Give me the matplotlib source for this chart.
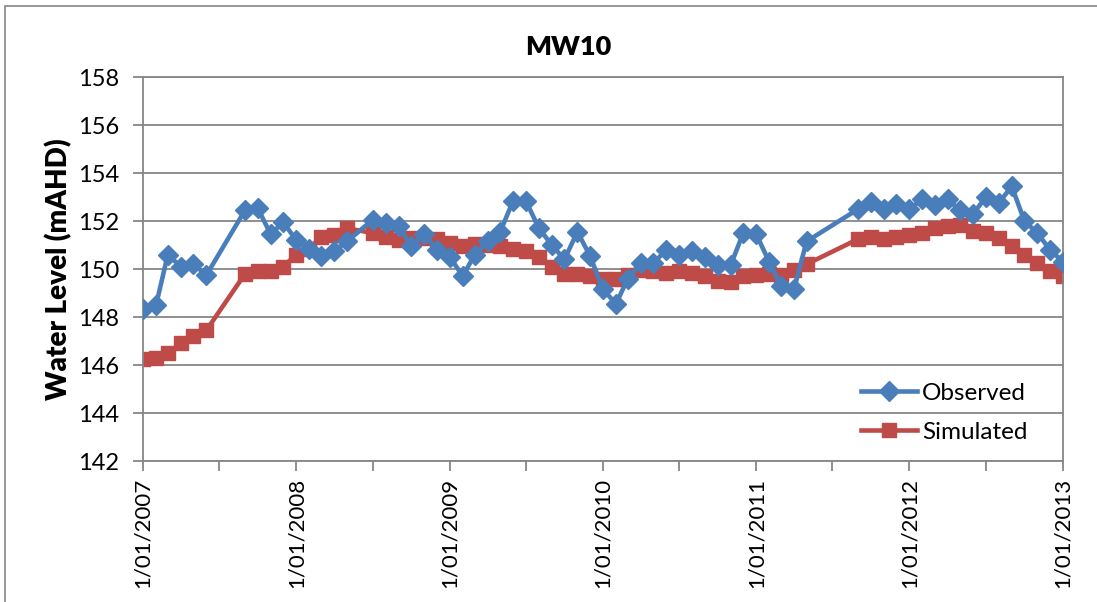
import matplotlib
matplotlib.use("Agg")
import matplotlib.pyplot as plt
import matplotlib.dates as mdates
from matplotlib.patches import Rectangle
import numpy as np
import pandas as pd

plt.rcParams['font.family'] = ['Lato', 'DejaVu Sans']

# monthly readings, with gaps where no sample was taken
dates = pd.to_datetime([
    "2007-01-01", "2007-02-01", "2007-03-01", "2007-04-01", "2007-05-01", "2007-06-01",
    "2007-09-01", "2007-10-01", "2007-11-01", "2007-12-01",
    "2008-01-01", "2008-02-01", "2008-03-01", "2008-04-01", "2008-05-01",
    "2008-07-01", "2008-08-01", "2008-09-01", "2008-10-01", "2008-11-01", "2008-12-01",
    "2009-01-01", "2009-02-01", "2009-03-01", "2009-04-01", "2009-05-01", "2009-06-01",
    "2009-07-01", "2009-08-01", "2009-09-01", "2009-10-01", "2009-11-01", "2009-12-01",
    "2010-01-01", "2010-02-01", "2010-03-01", "2010-04-01", "2010-05-01", "2010-06-01",
    "2010-07-01", "2010-08-01", "2010-09-01", "2010-10-01", "2010-11-01", "2010-12-01",
    "2011-01-01", "2011-02-01", "2011-03-01", "2011-04-01", "2011-05-01",
    "2011-09-01", "2011-10-01", "2011-11-01", "2011-12-01",
    "2012-01-01", "2012-02-01", "2012-03-01", "2012-04-01", "2012-05-01", "2012-06-01",
    "2012-07-01", "2012-08-01", "2012-09-01", "2012-10-01", "2012-11-01", "2012-12-01",
    "2013-01-01",
])

observed = [
    148.35, 148.5, 150.6, 150.1, 150.2, 149.75,
    152.45, 152.55, 151.45, 151.95,
    151.2, 150.85, 150.55, 150.75, 151.15,
    152.05, 151.9, 151.8, 150.95, 151.45, 150.8,
    150.5, 149.7, 150.6, 151.15, 151.55, 152.85,
    152.85, 151.7, 151.0, 150.4, 151.55, 150.55,
    149.15, 148.55, 149.6, 150.25, 150.25, 150.8,
    150.6, 150.75, 150.5, 150.15, 150.15, 151.5,
    151.45, 150.3, 149.3, 149.15, 151.15,
    152.5, 152.8, 152.5, 152.7,
    152.5, 152.9, 152.65, 152.9, 152.45, 152.3,
    153.0, 152.75, 153.45, 152.0, 151.5, 150.8,
    150.3,
]

simulated = [
    146.25, 146.3, 146.5, 146.9, 147.2, 147.45,
    149.8, 149.9, 149.9, 150.1,
    150.6, 150.85, 151.35, 151.4, 151.7,
    151.5, 151.35, 151.2, 151.3, 151.3, 151.25,
    151.1, 150.95, 151.05, 151.0, 150.95, 150.85,
    150.75, 150.5, 150.1, 149.8, 149.8, 149.7,
    149.6, 149.6, 149.75, 149.95, 149.9, 149.85,
    149.9, 149.85, 149.7, 149.5, 149.45, 149.7,
    149.75, 149.8, 149.75, 149.95, 150.2,
    151.25, 151.35, 151.25, 151.35,
    151.4, 151.5, 151.7, 151.8, 151.85, 151.6,
    151.5, 151.3, 150.95, 150.6, 150.25, 149.9,
    149.7,
]

blue = '#4a7ebb'
red = '#be4b48'
grey = '#868686'

fig = plt.figure(figsize=(10.97, 6.02), dpi=100)
ax = fig.add_axes([0.1304, 0.2342, 0.8386, 0.6378])

# outer chart border
fig.patches.append(Rectangle((0.0045, -0.1), 1.1, 1.09, transform=fig.transFigure,
                             fill=False, edgecolor=grey, linewidth=1.2))

ax.plot(dates, observed, color=blue, lw=3.3, marker='D', ms=10,
        markeredgecolor=blue, label='Observed', zorder=3)
ax.plot(dates, simulated, color=red, lw=3.3, marker='s', ms=10.5,
        markeredgecolor=red, label='Simulated', zorder=2)

ax.set_ylim(142, 158)
ax.set_yticks(np.arange(142, 159, 2))
ax.set_xlim(pd.Timestamp("2007-01-01"), pd.Timestamp("2013-01-01"))
ax.xaxis.set_major_locator(mdates.YearLocator())
ax.xaxis.set_minor_locator(mdates.MonthLocator(bymonth=7))
ax.set_xticklabels([f"1/01/{y}" for y in range(2007, 2014)], rotation=90)

ax.grid(axis='y', color=grey, lw=1.3)
ax.set_axisbelow(True)
for s in ax.spines.values():
    s.set_color(grey)
    s.set_linewidth(1.3)
ax.tick_params(axis='both', which='both', color=grey, width=1.3, direction='out')
ax.tick_params(axis='both', which='major', length=7)
ax.tick_params(axis='y', pad=10, labelsize=17)
ax.tick_params(axis='x', pad=5, labelsize=16)
ax.tick_params(axis='x', which='minor', length=7)

ax.set_ylabel('Water Level (mAHD)', fontsize=20, fontweight='heavy', labelpad=4)
ax.set_title('MW10', fontsize=19.5, fontweight='heavy', pad=16, x=0.462)

ax.legend(loc='lower right', bbox_to_anchor=(0.985, -0.01), frameon=False,
          fontsize=17.5, handlelength=2.3, handletextpad=0.2, labelspacing=0.75)

fig.savefig('out.png', dpi=100)
